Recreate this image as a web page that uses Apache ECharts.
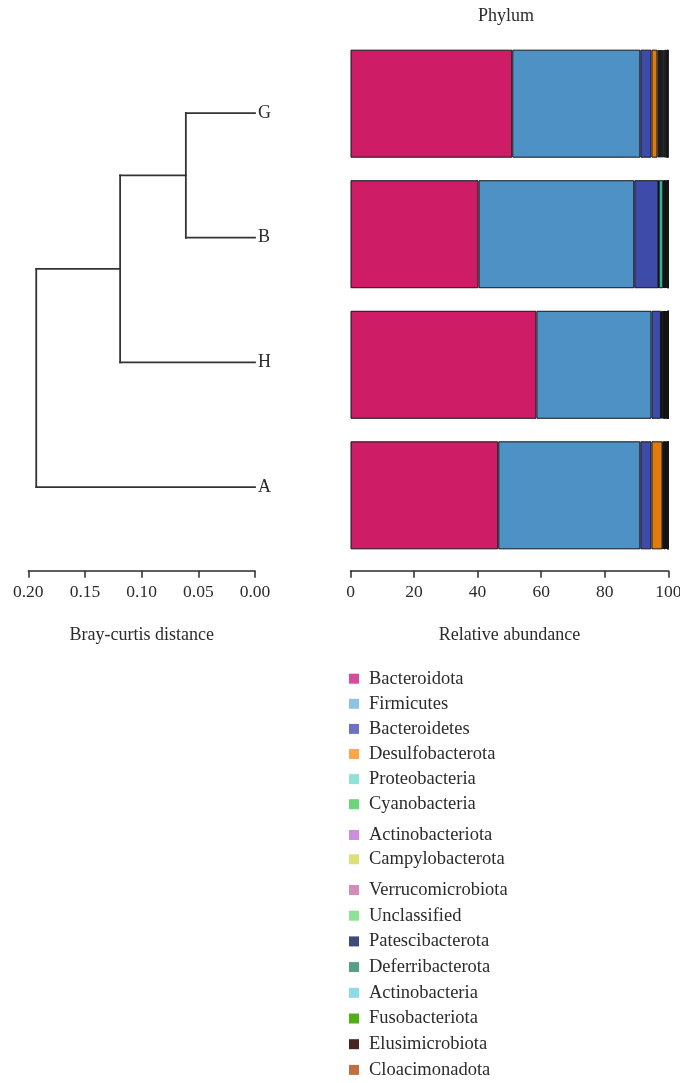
<!DOCTYPE html>
<html>
<head>
<meta charset="utf-8">
<script src="https://cdn.jsdelivr.net/npm/echarts@6/dist/echarts.min.js"></script>
<style>
  html, body { margin: 0; padding: 0; background: #fff; }
  #chart { width: 680px; height: 1083px; }
</style>
</head>
<body>
<div id="chart"></div>
<script>
// Samples, top to bottom
const samples = ['G', 'B', 'H', 'A'];

// Hierarchical clustering (Bray-Curtis): each merge joins two clusters at a height
const mergeLeft = ['G', 'GB', 'GBH'];
const mergeRight = ['B', 'H', 'A'];
const mergeName = ['GB', 'GBH', 'GBHA'];
const mergeHeight = [0.061, 0.119, 0.193];

const distanceTicks = [0, 0.05, 0.1, 0.15, 0.2];
const abundanceTicks = [0, 20, 40, 60, 80, 100];

// Phylum relative abundance (%), values ordered as samples
const phyla = ['Bacteroidota', 'Firmicutes', 'Bacteroidetes', 'Desulfobacterota', 'Proteobacteria',
  'Cyanobacteria', 'Actinobacteriota', 'Campylobacterota', 'Verrucomicrobiota', 'Unclassified',
  'Patescibacterota', 'Deferribacterota', 'Actinobacteria', 'Fusobacteriota', 'Elusimicrobiota', 'Cloacimonadota'];
const Bacteroidota      = [50.9, 40.3, 58.5, 46.5];
const Firmicutes        = [40.3, 49.0, 36.2, 44.7];
const Bacteroidetes     = [3.5, 7.6, 3.0, 3.5];
const Desulfobacterota  = [1.9, 0.1, 0.6, 3.5];
const Proteobacteria    = [0.4, 1.4, 0.2, 0.2];
const Cyanobacteria     = [0.3, 0.2, 0.2, 0.2];
const Actinobacteriota  = [0.3, 0.2, 0.2, 0.2];
const Campylobacterota  = [0.3, 0.1, 0.1, 0.1];
const Verrucomicrobiota = [0.3, 0.2, 0.2, 0.2];
const Unclassified      = [0.3, 0.2, 0.2, 0.2];
const Patescibacterota  = [0.4, 0.2, 0.2, 0.2];
const Deferribacterota  = [0.5, 0.2, 0.2, 0.2];
const Actinobacteria    = [0.2, 0.1, 0.1, 0.1];
const Fusobacteriota    = [0.1, 0.1, 0.05, 0.1];
const Elusimicrobiota   = [0.2, 0.05, 0.05, 0.05];
const Cloacimonadota    = [0.1, 0.05, 0, 0.05];
const phylumValues = [Bacteroidota, Firmicutes, Bacteroidetes, Desulfobacterota, Proteobacteria,
  Cyanobacteria, Actinobacteriota, Campylobacterota, Verrucomicrobiota, Unclassified,
  Patescibacterota, Deferribacterota, Actinobacteria, Fusobacteriota, Elusimicrobiota, Cloacimonadota];

// Fill colours for the bars and lighter swatches for the key
const barColors = ['#cf1c66', '#4e91c4', '#3e4ba8', '#e07b0e', '#2fb598', '#3fae4c', '#a85bc0', '#b8bb3a',
  '#b8558e', '#4fc060', '#2a3466', '#2e8a64', '#49b7c8', '#3c8c10', '#3a1a16', '#a05428'];
const keyColors = ['#d94c9a', '#8ec3e6', '#6e72c2', '#fba64a', '#8ee3d6', '#6cd47a', '#cd8edc', '#dcdf7a',
  '#d48db6', '#8ee296', '#3f4a7a', '#56a086', '#8edae6', '#4fb016', '#4a2420', '#c07040'];

const serif = '"Liberation Serif", "DejaVu Serif", serif';
const ink = '#2b2b2b';

// Build dendrogram segments [x1, y1, x2, y2] (x = distance, y = sample slot)
const nodes = {};
samples.forEach((s, i) => { nodes[s] = { h: 0, y: i }; });
const segments = [];
mergeName.forEach((name, k) => {
  const a = nodes[mergeLeft[k]], b = nodes[mergeRight[k]], h = mergeHeight[k];
  segments.push([a.h, a.y, h, a.y]);
  segments.push([b.h, b.y, h, b.y]);
  segments.push([h, a.y, h, b.y]);
  nodes[name] = { h: h, y: (a.y + b.y) / 2 };
});

const axisFont = { fontFamily: serif, fontSize: 18, color: ink };
const tickFont = { fontFamily: serif, fontSize: 17.5, color: ink };

const chart = echarts.init(document.getElementById('chart'), null, { renderer: 'canvas' });

const legendBlocks = [[0, 6, 668.7, 5.1], [6, 8, 825, 4.3], [8, 16, 880, 5.7]];

chart.setOption({
  backgroundColor: '#fff',
  animation: false,
  title: {
    text: 'Phylum', left: 478, top: 7, padding: 0,
    textStyle: { fontFamily: serif, fontSize: 18, fontWeight: 'normal', color: ink }
  },
  grid: [
    { left: 28.3, right: 680 - 255, top: 50.7, height: 498.7, outerBoundsMode: 'none' },
    { left: 350.5, right: 680 - 668.3, top: 38.4, height: 522.2, outerBoundsMode: 'none' }
  ],
  xAxis: [
    {
      gridIndex: 0, type: 'value', inverse: true, min: 0, max: 0.2, interval: 0.05,
      offset: 570.7 - 549.4,
      name: 'Bray-curtis distance', nameLocation: 'middle', nameGap: 56,
      nameTextStyle: axisFont,
      axisLine: { show: true, onZero: false, lineStyle: { color: ink, width: 1.5 } },
      axisTick: { show: true, length: 7, lineStyle: { color: ink, width: 1.5 } },
      axisLabel: Object.assign({ margin: 13, formatter: v => v.toFixed(2) }, tickFont),
      splitLine: { show: false }
    },
    {
      gridIndex: 1, type: 'value', min: 0, max: 100, interval: 20,
      offset: 570.7 - 560.6,
      name: 'Relative abundance', nameLocation: 'middle', nameGap: 56,
      nameTextStyle: axisFont,
      axisLine: { show: true, onZero: false, lineStyle: { color: ink, width: 1.5 } },
      axisTick: { show: true, length: 7, lineStyle: { color: ink, width: 1.5 } },
      axisLabel: Object.assign({ margin: 13 }, tickFont),
      splitLine: { show: false }
    }
  ],
  yAxis: [
    { gridIndex: 0, type: 'value', min: -0.5, max: samples.length - 0.5, inverse: true, show: false },
    {
      gridIndex: 0, type: 'category', data: samples, inverse: true, position: 'right',
      axisLine: { show: false }, axisTick: { show: false },
      axisLabel: { margin: 3, fontFamily: serif, fontSize: 18, color: ink }
    },
    { gridIndex: 1, type: 'category', data: samples, inverse: true, show: false }
  ],
  legend: legendBlocks.map(([from, to, top, gap]) => ({
    orient: 'vertical', left: 349, top: top, padding: 0, itemGap: gap,
    itemWidth: 10, itemHeight: 10, icon: 'rect', selectedMode: false,
    textStyle: { fontFamily: serif, fontSize: 18.5, color: ink, lineHeight: 20, padding: [0, 0, 0, 5] },
    data: phyla.slice(from, to).map((p, j) => ({
      name: p, itemStyle: { color: keyColors[from + j], borderWidth: 0 }
    }))
  })),
  series: [
    {
      type: 'custom', xAxisIndex: 0, yAxisIndex: 0, silent: true,
      data: segments,
      renderItem: function (params, api) {
        const p1 = api.coord([api.value(0), api.value(1)]);
        const p2 = api.coord([api.value(2), api.value(3)]);
        return {
          type: 'line',
          shape: { x1: p1[0], y1: p1[1], x2: p2[0], y2: p2[1] },
          style: { stroke: '#333', lineWidth: 1.8, lineCap: 'square' }
        };
      }
    }
  ].concat(phyla.map((p, i) => ({
    name: p, type: 'bar', stack: 'abundance', xAxisIndex: 1, yAxisIndex: 2,
    barWidth: 108, data: phylumValues[i],
    itemStyle: { color: barColors[i], borderColor: '#151515', borderWidth: 1 }
  })))
});
</script>
</body>
</html>
